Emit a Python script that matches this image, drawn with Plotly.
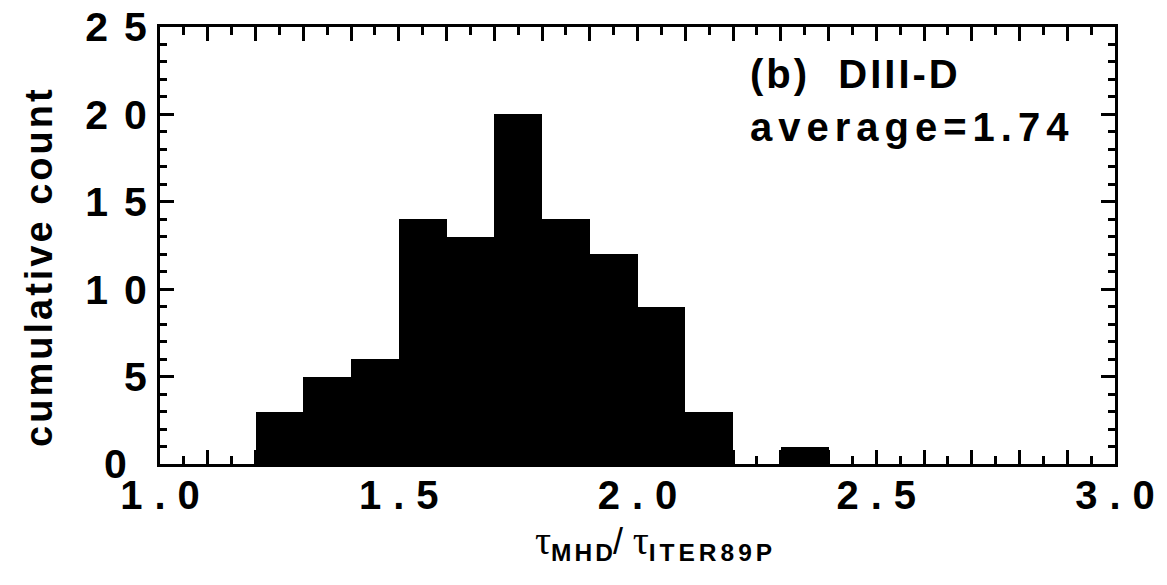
import plotly.graph_objects as go

# Histogram data
bin_lefts = [1.2, 1.3, 1.4, 1.5, 1.6, 1.7, 1.8, 1.9, 2.0, 2.1, 2.2, 2.3]
counts = [3, 5, 6, 14, 13, 20, 14, 12, 9, 3, 0, 1]
bin_width = 0.1

x_tick_vals = [round(1.0 + 0.1 * i, 1) for i in range(21)]
x_label_map = {1.0: "1.0", 1.5: "1.5", 2.0: "2.0", 2.5: "2.5", 3.0: "3.0"}
y_tick_vals = [0, 5, 10, 15, 20, 25]
y_tick_labels = ["0", "5", "10", "15", "20", "25"]

FONT = "Liberation Sans"
SERIF = "Liberation Serif"


def spaced(s, px):
    return f'<span style="letter-spacing:{px}px">{s}</span>' if s else ""


def spaced_inner(s, px):
    # letter-spacing between characters only (no trailing space)
    if not s:
        return ""
    if len(s) == 1:
        return s
    return f'<span style="letter-spacing:{px}px">{s[:-1]}</span>{s[-1]}'


fig = go.Figure()
fig.add_trace(go.Bar(
    x=bin_lefts, y=counts, width=bin_width, offset=0,
    marker=dict(color="black", line=dict(width=0)),
    showlegend=False,
))

tau = f'<span style="font-family:{SERIF};font-weight:normal;font-size:40px">τ</span>'
slash = '<span style="font-weight:normal;font-size:36px">/</span>'
x_title = (f'{tau}<sub>{spaced_inner("MHD", 3)}</sub>{slash} '
           f'{tau}<sub>{spaced_inner("ITER89P", 4)}</sub>')

# the "0" label sits a little further left in the original
y_text = [spaced("0", 20) if t == "0" else spaced_inner(t, 16) for t in y_tick_labels]

fig.update_layout(
    width=1167, height=585,
    margin=dict(l=160, r=52, t=27, b=121),
    paper_bgcolor="white", plot_bgcolor="white",
    bargap=0,
    font=dict(family=FONT, color="black"),
    xaxis=dict(
        range=[1.0, 3.0],
        automargin=False,
        tickmode="array",
        tickvals=x_tick_vals,
        ticktext=[spaced_inner(x_label_map.get(v, ""), 12) for v in x_tick_vals],
        ticks="inside", ticklen=14, tickwidth=2.5, tickcolor="black",
        minor=dict(dtick=0.05, tick0=1.0, ticks="inside", ticklen=8, tickwidth=2.5, tickcolor="black"),
        showline=True, linecolor="black", linewidth=3, mirror="allticks",
        showgrid=False, zeroline=False,
        tickfont=dict(family=FONT, size=40, color="black", weight="bold"),
        ticklabelstandoff=-6,
    ),
    yaxis=dict(
        range=[0, 25],
        automargin=False,
        tickmode="array",
        tickvals=y_tick_vals,
        ticktext=y_text,
        ticks="inside", ticklen=14, tickwidth=2.5, tickcolor="black",
        minor=dict(dtick=1, tick0=0, ticks="inside", ticklen=7, tickwidth=2.5, tickcolor="black"),
        showline=True, linecolor="black", linewidth=3, mirror="allticks",
        showgrid=False, zeroline=False,
        tickfont=dict(family=FONT, size=41, color="black", weight="bold"),
        ticklabelstandoff=2,
    ),
    annotations=[
        dict(x=0.517, y=-0.178, xref="paper", yref="paper", xanchor="center", yanchor="middle",
             text=x_title, showarrow=False,
             font=dict(family=FONT, size=35, color="black", weight="bold")),
        dict(x=-0.126, y=0.448, xref="paper", yref="paper", xanchor="center", yanchor="middle",
             text=spaced_inner("cumulative count", 3), textangle=-90, showarrow=False,
             font=dict(family=FONT, size=38, color="black", weight="bold")),
        dict(x=0.616, y=0.893, xref="paper", yref="paper", xanchor="left", yanchor="middle",
             text=spaced_inner("(b)  DIII-D", 3), showarrow=False,
             font=dict(family=FONT, size=40, color="black", weight="bold")),
        dict(x=0.616, y=0.771, xref="paper", yref="paper", xanchor="left", yanchor="middle",
             text=spaced_inner("average=1.74", 6), showarrow=False,
             font=dict(family=FONT, size=40, color="black", weight="bold")),
    ],
)

fig.write_html("out.html")
